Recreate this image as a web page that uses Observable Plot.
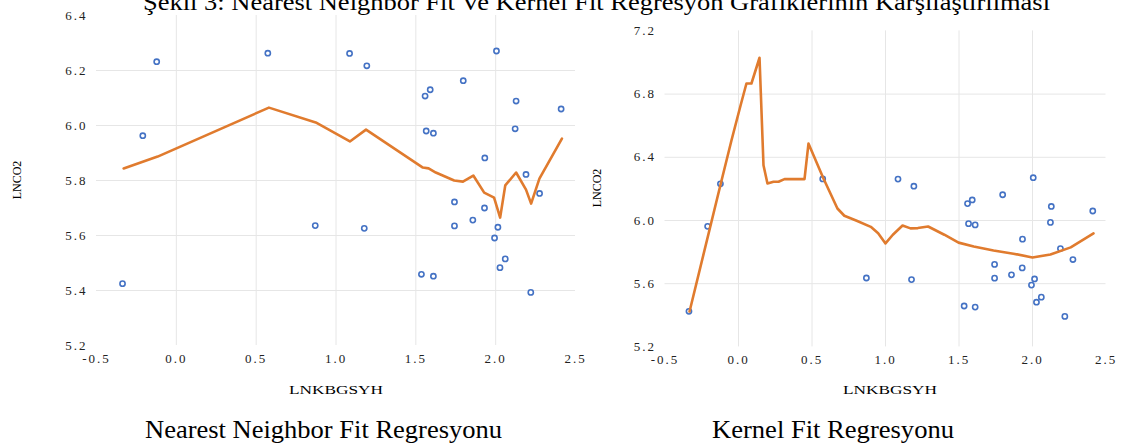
<!DOCTYPE html>
<html><head><meta charset="utf-8">
<script src="https://cdn.jsdelivr.net/npm/d3@7"></script>
<script src="https://cdn.jsdelivr.net/npm/@observablehq/plot@0.6"></script>
<style>
html,body{margin:0;padding:0;background:#fff;}
body{width:1121px;height:448px;position:relative;overflow:hidden;font-family:"Liberation Serif","Times New Roman",serif;}
.t{position:absolute;white-space:nowrap;line-height:1;color:#000;transform-origin:0 0;}
.yl{position:absolute;white-space:nowrap;line-height:1;color:#000;font-size:12px;}
#left,#right{position:absolute;top:0;}
#left{left:0px}
#right{left:590px}
#left svg text,#right svg text{letter-spacing:2px;}
</style></head><body>
<div id="title" class="t" style="left:143px;top:-10px;font-size:24px">Şekil 3: Nearest Neighbor Fit Ve Kernel Fit Regresyon Grafiklerinin Karşılaştırılması</div>
<div id="left"></div><div id="right"></div>
<div id="xl1" class="t" style="left:289px;top:384px;font-size:12px">LNKBGSYH</div>
<div id="xl2" class="t" style="left:843px;top:384px;font-size:12px">LNKBGSYH</div>
<div id="yl1" class="yl" style="left:17px;top:180px;transform:translate(-50%,-50%) rotate(-90deg)">LNCO2</div>
<div id="yl2" class="yl" style="left:597px;top:188px;transform:translate(-50%,-50%) rotate(-90deg)">LNCO2</div>
<div id="cap1" class="t" style="left:145px;top:417px;font-size:26px">Nearest Neighbor Fit Regresyonu</div>
<div id="cap2" class="t" style="left:712px;top:417px;font-size:26px">Kernel Fit Regresyonu</div>
<script>
// Observed data (LNKBGSYH vs LNCO2)
const pointX = [-0.337,-0.21,-0.123,0.573,0.87,1.085,1.193,1.177,1.558,1.59,1.797,1.565,1.61,1.932,1.742,1.742,1.857,1.93,2.014,1.993,2.06,2.027,1.535,1.61,2.22,2.122,2.128,2.19,2.275,2.41,2.005];
const pointY = [5.425,5.963,6.232,6.263,5.636,6.262,6.217,5.626,6.107,6.13,6.163,5.98,5.972,5.882,5.722,5.635,5.656,5.70,5.63,5.591,5.515,5.483,5.459,5.452,5.393,5.988,6.089,5.822,5.753,6.06,6.271];

// Nearest neighbor fit
const nnX = [-0.33,-0.117,0.58,0.873,1.087,1.188,1.544,1.58,1.625,1.74,1.795,1.86,1.928,1.99,2.028,2.06,2.128,2.19,2.222,2.274,2.415];
const nnY = [5.844,5.887,6.065,6.011,5.942,5.985,5.847,5.844,5.829,5.80,5.796,5.818,5.756,5.738,5.665,5.782,5.829,5.767,5.716,5.807,5.952];

// Kernel fit
const kX = [-0.333,-0.122,-0.048,0.014,0.054,0.088,0.143,0.17,0.197,0.238,0.272,0.313,0.449,0.476,0.578,0.673,0.72,0.8,0.9,0.95,1.0,1.05,1.116,1.17,1.22,1.29,1.4,1.497,1.6,1.735,1.87,2.0,2.122,2.26,2.415];
const kY = [5.424,6.228,6.506,6.728,6.867,6.867,7.03,6.35,6.234,6.245,6.245,6.262,6.262,6.487,6.266,6.076,6.03,6.0,5.96,5.92,5.855,5.91,5.968,5.95,5.952,5.962,5.91,5.86,5.835,5.81,5.79,5.766,5.785,5.83,5.918];

const xTicks = [-0.5,0,0.5,1,1.5,2,2.5];
const xGrid = [0,0.5,1,1.5,2];
const leftYTicks = [5.2,5.4,5.6,5.8,6.0,6.2,6.4];
const leftYGrid = [5.4,5.6,5.8,6.0,6.2];
const rightYTicks = [5.2,5.6,6.0,6.4,6.8,7.2];
const rightYGrid = [5.6,6.0,6.4,6.8];

const pts = pointX.map((x,i)=>({x, y: pointY[i]}));

function chart(lx, ly, o) {
  const line = lx.map((x,i)=>({x, y: ly[i]}));
  return Plot.plot({
    width: o.width, height: 400,
    marginLeft: o.mL, marginRight: o.mR, marginTop: o.mT, marginBottom: o.mB,
    style: {fontFamily: "Liberation Serif, Times New Roman, serif", fontSize: "13px", color: "#222", background: "transparent", overflow: "visible"},
    x: {domain: [-0.5, 2.5], ticks: xTicks, tickFormat: d => d.toFixed(1), tickSize: 0, tickPadding: 8, label: null},
    y: {domain: [o.yTicks[0], o.yTicks[o.yTicks.length-1]], ticks: o.yTicks, tickFormat: d => d.toFixed(1), tickSize: 0, tickPadding: 9, label: null},
    marks: [
      Plot.ruleX(xGrid, {stroke: "#e6e6e6", strokeWidth: 1}),
      Plot.ruleY(o.yGrid, {stroke: "#e6e6e6", strokeWidth: 1}),
      Plot.dot(pts, {x: "x", y: "y", r: 2.6, stroke: "#4472c4", strokeWidth: 1.6, fill: "white"}),
      Plot.line(line, {x: "x", y: "y", stroke: "#e07b2e", strokeWidth: 2.6})
    ]
  });
}

document.getElementById("left").appendChild(chart(nnX, nnY, {width: 590, mL: 96, mR: 15, mT: 15, mB: 55, yTicks: leftYTicks, yGrid: leftYGrid}));
document.getElementById("right").appendChild(chart(kX, kY, {width: 531, mL: 74.5, mR: 15.5, mT: 30.4, mB: 53.6, yTicks: rightYTicks, yGrid: rightYGrid}));

function fit(id, w) {
  const el = document.getElementById(id);
  const cur = el.getBoundingClientRect().width;
  el.style.transform = `scaleX(${w/cur})`;
}
fit("title", 907);
fit("cap1", 357);
fit("cap2", 242);
fit("xl1", 94);
fit("xl2", 94);
</script>
</body></html>
